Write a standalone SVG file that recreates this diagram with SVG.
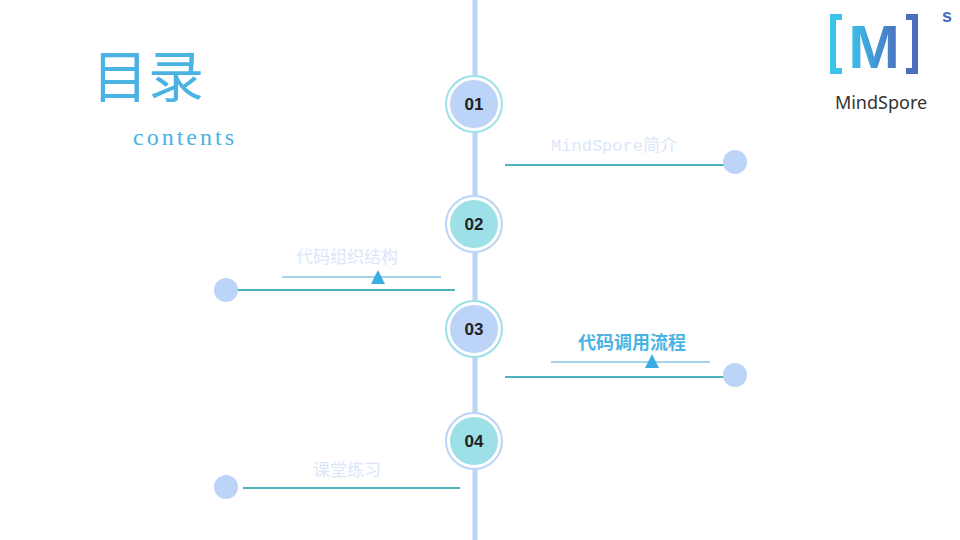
<svg xmlns="http://www.w3.org/2000/svg" width="960" height="540" viewBox="0 0 960 540">
<defs>
<linearGradient id="lg" x1="0" y1="0" x2="1" y2="0"><stop offset="0" stop-color="#3cc3ec"/><stop offset="1" stop-color="#4a6fbf"/></linearGradient>
</defs>
<style>
.num{font-family:"Liberation Sans",Arial,sans-serif;font-weight:bold;font-size:17px;fill:#222;text-anchor:middle}
.lbl{font-family:"Liberation Mono","Noto Sans CJK SC",monospace;font-size:17px;fill:#dbe6f8;text-anchor:middle}
.teal{stroke:#4fb1be;stroke-width:2;fill:none}
.thin{stroke:#85c6e6;stroke-width:1.5;fill:none}
.dot{fill:#bcd4f7}
</style>
<rect width="960" height="540" fill="#fff"/>
<text x="148" y="97" font-family="Noto Sans CJK SC,sans-serif" font-size="56" fill="#4ab3e3" text-anchor="middle">目录</text>
<text x="185" y="145" font-family="Liberation Serif,serif" font-size="24" letter-spacing="3" fill="#4ab3e3" text-anchor="middle">contents</text>
<g id="logo">
<path d="M830 14h12v6h-6v48h6v6h-12z" fill="#3cc3ec"/>
<path d="M918 14h-12v6h6v48h-6v6h12z" fill="#4a6fbf"/>
<text x="874" y="68" font-family="Liberation Sans,sans-serif" font-weight="bold" font-size="62" fill="url(#lg)" text-anchor="middle">M</text>
<text x="947" y="22" font-family="Liberation Sans,sans-serif" font-weight="bold" font-size="18" fill="#4a6fbf" text-anchor="middle">s</text>
<text x="881" y="109" font-family="Noto Sans,sans-serif" font-size="18" fill="#333" text-anchor="middle">MindSpore</text>
</g>
<g id="connectors">
<line x1="475" y1="0" x2="475" y2="540" stroke="#bcd4f7" stroke-width="5"/>
<line class="teal" x1="505" y1="165" x2="724" y2="165"/>
<line class="teal" x1="236" y1="290" x2="455" y2="290"/>
<line class="thin" x1="282" y1="277" x2="441" y2="277"/>
<polygon points="378,270 371,284 385,284" fill="#3aaee2"/>
<line class="teal" x1="505" y1="377" x2="724" y2="377"/>
<line class="thin" x1="551" y1="362" x2="710" y2="362"/>
<polygon points="652,354 645,368 659,368" fill="#3aaee2"/>
<line class="teal" x1="243" y1="488" x2="460" y2="488"/>
</g>
<g id="n1"><circle cx="474" cy="104" r="28" fill="#fff" stroke="#9ee0e8" stroke-width="2"/><circle cx="474" cy="104" r="24" fill="#bcd4f7"/><text class="num" x="474" y="110">01</text></g>
<g id="n2"><circle cx="474" cy="224" r="28" fill="#fff" stroke="#bcd4f7" stroke-width="2"/><circle cx="474" cy="224" r="24" fill="#9ee0e8"/><text class="num" x="474" y="230">02</text></g>
<g id="n3"><circle cx="474" cy="329" r="28" fill="#fff" stroke="#9ee0e8" stroke-width="2"/><circle cx="474" cy="329" r="24" fill="#bcd4f7"/><text class="num" x="474" y="335">03</text></g>
<g id="n4"><circle cx="474" cy="441" r="28" fill="#fff" stroke="#bcd4f7" stroke-width="2"/><circle cx="474" cy="441" r="24" fill="#9ee0e8"/><text class="num" x="474" y="447">04</text></g>
<g id="t1"><text class="lbl" x="614" y="151">MindSpore简介</text><circle class="dot" cx="735" cy="162" r="12"/></g>
<g id="t2"><text class="lbl" x="347" y="263">代码组织结构</text><circle class="dot" cx="226" cy="290" r="12"/></g>
<g id="t3"><text class="lbl" x="632" y="349" style="fill:#4ab3e3;font-weight:bold;font-size:18px">代码调用流程</text><circle class="dot" cx="735" cy="375" r="12"/></g>
<g id="t4"><text class="lbl" x="347" y="476">课堂练习</text><circle class="dot" cx="226" cy="487" r="12"/></g>
</svg>
